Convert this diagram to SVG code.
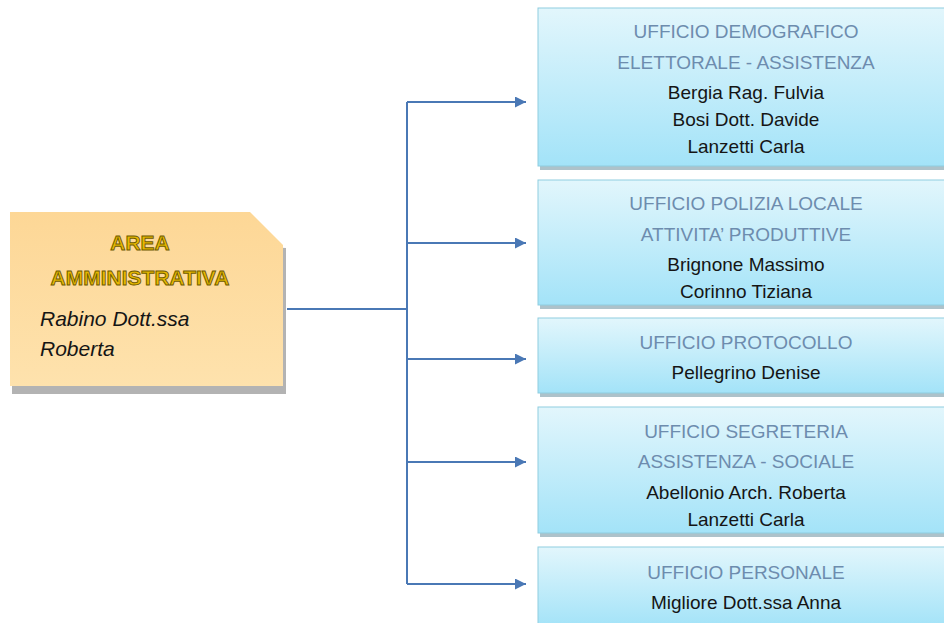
<svg xmlns="http://www.w3.org/2000/svg" width="944" height="623" viewBox="0 0 944 623">
  <defs>
    <linearGradient id="blue" x1="0" y1="0" x2="0" y2="1">
      <stop offset="0" stop-color="#e2f6fc"/>
      <stop offset="1" stop-color="#a3e3f8"/>
    </linearGradient>
    <linearGradient id="orange" x1="0" y1="0" x2="0" y2="1">
      <stop offset="0" stop-color="#fdd796"/>
      <stop offset="1" stop-color="#fee2ad"/>
    </linearGradient>
    <marker id="arrow" viewBox="0 0 10 10" refX="10" refY="5" markerWidth="11" markerHeight="11" markerUnits="userSpaceOnUse" orient="auto">
      <path d="M0,0 L10,5 L0,10 z" fill="#4a78b5"/>
    </marker>
  </defs>
  <style>
    .box { fill: url(#blue); stroke: #8fcde0; stroke-width: 1; }
    .shadow { fill: #8aa8b4; opacity: 0.7; }
    .title { font-family: "Liberation Sans", Arial, sans-serif; font-size: 19px; fill: #6d8cae; text-anchor: middle; }
    .name { font-family: "Liberation Sans", Arial, sans-serif; font-size: 19px; fill: #151515; text-anchor: middle; }
    .conn { stroke: #4a78b5; stroke-width: 2; fill: none; }
    .area { font-family: "Liberation Sans", Arial, sans-serif; font-size: 21px; font-weight: bold; fill: #e8b800; stroke: #6e5a00; stroke-width: 0.9; text-anchor: middle; }
    .boss { font-family: "Liberation Sans", Arial, sans-serif; font-size: 21px; font-style: italic; fill: #151515; }
  </style>

  <g id="area-amministrativa">
    <path d="M12,230 L286,248 L286,394 L12,394 z" fill="#a0a0a0" opacity="0.8"/>
    <path d="M10,212 L250,212 L283,245 L283,386 L10,386 z" fill="url(#orange)"/>
    <text class="area" x="140" y="250">AREA</text>
    <text class="area" x="140" y="285">AMMINISTRATIVA</text>
    <text class="boss" x="40" y="326">Rabino Dott.ssa</text>
    <text class="boss" x="40" y="356">Roberta</text>
  </g>

  <g id="connectors">
    <path class="conn" d="M287,309 L407,309"/>
    <path class="conn" d="M407,102 L407,584"/>
    <path class="conn" d="M407,102 L526,102" marker-end="url(#arrow)"/>
    <path class="conn" d="M407,243 L526,243" marker-end="url(#arrow)"/>
    <path class="conn" d="M407,359 L526,359" marker-end="url(#arrow)"/>
    <path class="conn" d="M407,462 L526,462" marker-end="url(#arrow)"/>
    <path class="conn" d="M407,584 L526,584" marker-end="url(#arrow)"/>
  </g>

  <g id="ufficio-demografico">
    <rect class="shadow" x="540" y="164" width="410" height="6"/>
    <rect class="box" x="538" y="8" width="410" height="158"/>
    <text class="title" x="746" y="38">UFFICIO DEMOGRAFICO</text>
    <text class="title" x="746" y="69">ELETTORALE - ASSISTENZA</text>
    <text class="name" x="746" y="99">Bergia Rag. Fulvia</text>
    <text class="name" x="746" y="126">Bosi Dott. Davide</text>
    <text class="name" x="746" y="153">Lanzetti Carla</text>
  </g>

  <g id="ufficio-polizia">
    <rect class="shadow" x="540" y="303" width="410" height="6"/>
    <rect class="box" x="538" y="180" width="410" height="125"/>
    <text class="title" x="746" y="210">UFFICIO POLIZIA LOCALE</text>
    <text class="title" x="746" y="241">ATTIVITA’ PRODUTTIVE</text>
    <text class="name" x="746" y="271">Brignone Massimo</text>
    <text class="name" x="746" y="298">Corinno Tiziana</text>
  </g>

  <g id="ufficio-protocollo">
    <rect class="shadow" x="540" y="391" width="410" height="6"/>
    <rect class="box" x="538" y="318" width="410" height="75"/>
    <text class="title" x="746" y="349">UFFICIO PROTOCOLLO</text>
    <text class="name" x="746" y="379">Pellegrino Denise</text>
  </g>

  <g id="ufficio-segreteria">
    <rect class="shadow" x="540" y="531" width="410" height="6"/>
    <rect class="box" x="538" y="407" width="410" height="126"/>
    <text class="title" x="746" y="438">UFFICIO SEGRETERIA</text>
    <text class="title" x="746" y="468">ASSISTENZA - SOCIALE</text>
    <text class="name" x="746" y="499">Abellonio Arch. Roberta</text>
    <text class="name" x="746" y="526">Lanzetti Carla</text>
  </g>

  <g id="ufficio-personale">
    <rect class="box" x="538" y="547" width="410" height="80"/>
    <text class="title" x="746" y="579">UFFICIO PERSONALE</text>
    <text class="name" x="746" y="609">Migliore Dott.ssa Anna</text>
  </g>
</svg>
